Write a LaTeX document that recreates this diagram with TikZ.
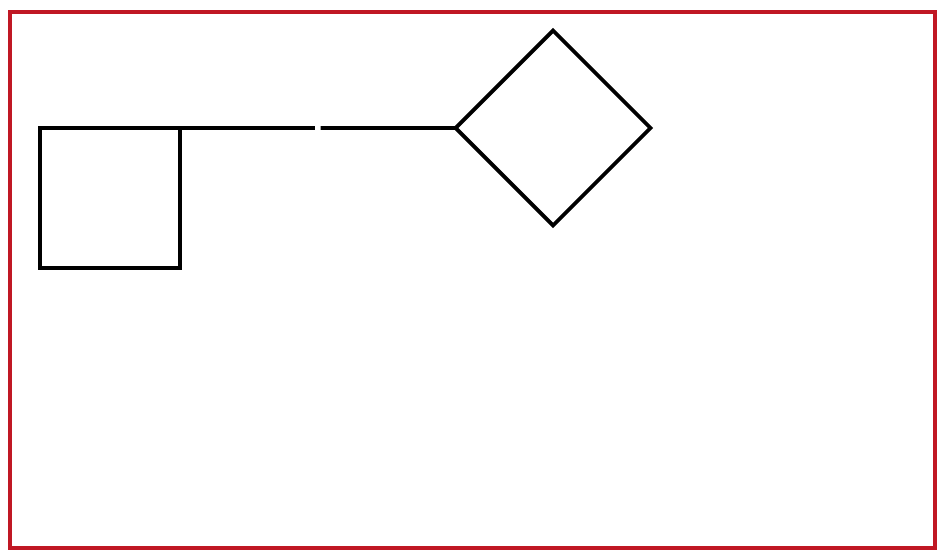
\documentclass[tikz,border=0pt]{standalone}
\usetikzlibrary{
  positioning,
  shapes.geometric,
  calc
}
\definecolor{frame}{RGB}{192,24,36}

\begin{document}
\begin{tikzpicture}[
  x=0.02cm, y=-0.02cm,
  block/.style={draw=black, line width=2.2pt, minimum size=2.8cm, inner sep=0pt,
                outer sep=0pt},
  choice/.style={draw=black, diamond, line width=2.2pt, minimum width=3.9cm,
                 minimum height=3.9cm, inner sep=0pt, outer sep=0pt},
  edge/.style={draw=black, line width=2.2pt},
  outline/.style={draw=frame, line width=2.2pt}
]
\useasboundingbox (0,0) rectangle (937,554);

% Frame
\draw[outline] (10,12) rectangle (935,548);

\node[block] (box) at (110,198) {};
\node[choice] (dia) at (553,128) {};

% Connector with a small break
\coordinate (mid) at ($(box.north east)!0.5!(dia.west)$);
\draw[edge, shorten >=1.7pt] (box.north east) -- (mid);
\draw[edge, shorten >=1.7pt] (dia.west) -- (mid);

\end{tikzpicture}
\end{document}
